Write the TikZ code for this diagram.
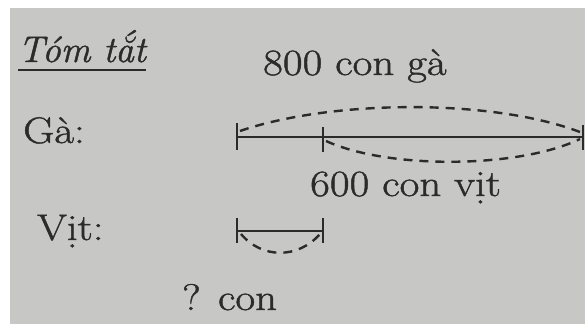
\documentclass[tikz,border=0pt]{standalone}
\usepackage{fontspec}
\newfontfamily\schfont{Latin Modern Roman}[FakeStretch=1.16,FakeBold=1.2]
\newfontfamily\schitfont{Latin Modern Roman}[FakeBold=1.2]
\definecolor{paper}{HTML}{C7C7C5}
\definecolor{ink}{HTML}{2B2B2B}
\begin{document}
\begin{tikzpicture}[x=1pt,y=-1pt,
  lbl/.style={anchor=base west, inner sep=0pt, text=ink, font=\schfont\fontsize{37}{42}\selectfont},
  seg/.style={draw=ink, line width=1.8pt},
  tick/.style={draw=ink, line width=2.2pt},
  arcd/.style={draw=ink, line width=2.4pt, dash pattern=on 9pt off 7pt},
]
\useasboundingbox (0,0) rectangle (585,324);
\fill[white] (0,0) rectangle (585,324);
\fill[paper] (10,8) rectangle (585,324);
% texts
\node[lbl, font=\schitfont\fontsize{37}{42}\selectfont\itshape] (tt) at (18,62) {Tóm tắt};
\draw[ink, line width=2.4pt] (tt.base west) ++(0,-8pt) -- ([yshift=-8pt]tt.base east);
\node[lbl] (t800) at (263,75) {800 con gà};
\node[lbl] (ga) at (23,143) {Gà:};
\node[lbl] (vit) at (37,240) {Vịt:};
\node[lbl] (t600) at (310,196) {600 con vịt};
\node[lbl] (q) at (182,310) {? con};
% Gà segment
\coordinate (g0) at (237,137);
\coordinate (g1) at (323,137);
\coordinate (g2) at (583,137);
\draw[seg] (g0) -- (g2);
\draw[tick] (237,123) -- (237,150);
\draw[tick] (323,127) -- (323,152);
\draw[tick] (583,125) -- (583,150);
\coordinate (ua) at (240,131);
\coordinate (ub) at (580,132);
\draw[arcd] (ua) .. controls (330,100) and (490,98) .. (ub);
\coordinate (la) at (326,141);
\coordinate (lb) at (580,139);
\draw[arcd] (la) .. controls (390,170) and (520,168) .. (lb);
% Vịt segment
\coordinate (v0) at (237,231);
\coordinate (v1) at (323,231);
\draw[seg] (v0) -- (v1);
\draw[tick] (237,218) -- (237,243);
\draw[tick] (323,218) -- (323,243);
\coordinate (va) at (241,234);
\coordinate (vb) at (320,234);
\draw[arcd] (va) .. controls (262,259) and (298,259) .. (vb);
\end{tikzpicture}
\end{document}
